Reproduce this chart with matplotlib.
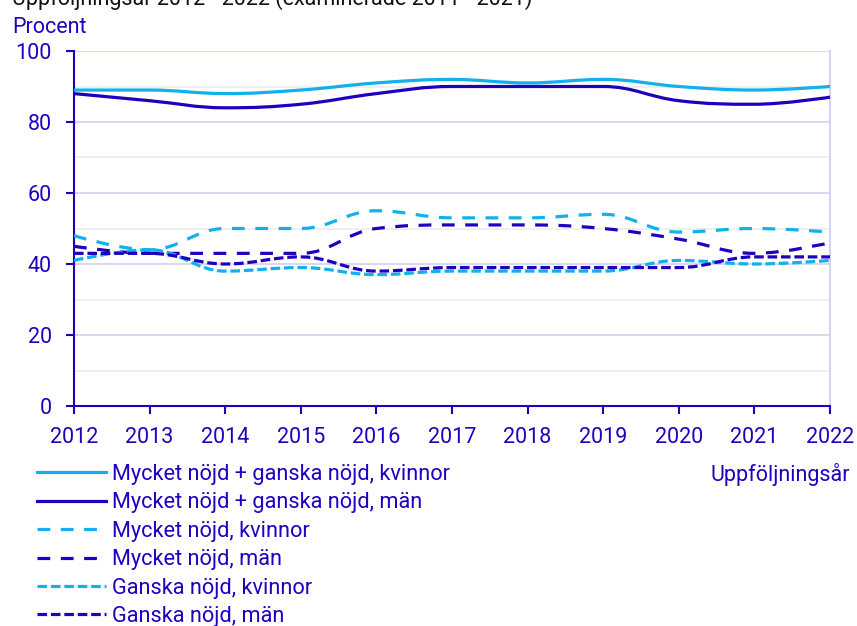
import matplotlib
matplotlib.use("Agg")
import matplotlib.pyplot as plt
from matplotlib.path import Path
from matplotlib.patches import PathPatch
from matplotlib.lines import Line2D
from matplotlib.ticker import MultipleLocator

plt.rcParams['font.family'] = ['Roboto', 'DejaVu Sans']

years = [2012, 2013, 2014, 2015, 2016, 2017, 2018, 2019, 2020, 2021, 2022]
total_kvinnor = [89, 89, 88, 89, 91, 92, 91, 92, 90, 89, 90]
total_man = [88, 86, 84, 85, 88, 90, 90, 90, 86, 85, 87]
mycket_kvinnor = [48, 44, 50, 50, 55, 53, 53, 54, 49, 50, 49]
mycket_man = [45, 43, 43, 43, 50, 51, 51, 50, 47, 43, 46]
ganska_kvinnor = [41, 44, 38, 39, 37, 38, 38, 38, 41, 40, 41]
ganska_man = [43, 43, 40, 42, 38, 39, 39, 39, 39, 42, 42]

labels = ["Mycket nöjd + ganska nöjd, kvinnor",
          "Mycket nöjd + ganska nöjd, män",
          "Mycket nöjd, kvinnor",
          "Mycket nöjd, män",
          "Ganska nöjd, kvinnor",
          "Ganska nöjd, män"]

LIGHT = '#12b0ec'
DARK = '#1e00be'
TXT = '#2200c0'
GRID = '#d4d4f2'
MINOR = '#eeeeee'

series = [
    (total_kvinnor, LIGHT, '-'),
    (total_man, DARK, '-'),
    (mycket_kvinnor, LIGHT, (0, (4, 3.3))),
    (mycket_man, DARK, (0, (4, 3.3))),
    (ganska_kvinnor, LIGHT, (0, (3, 1.2))),
    (ganska_man, DARK, (0, (3, 1.2))),
]


def spline_path(x, y, smoothing=1.5):
    n = len(x)
    denom = smoothing + 1
    L = []
    R = []
    for i in range(n):
        if 0 < i < n - 1:
            lx = (smoothing * x[i] + x[i - 1]) / denom
            ly = (smoothing * y[i] + y[i - 1]) / denom
            rx = (smoothing * x[i] + x[i + 1]) / denom
            ry = (smoothing * y[i] + y[i + 1]) / denom
            if rx != lx:
                corr = ((ry - ly) * (rx - x[i])) / (rx - lx) + y[i] - ry
                ly += corr
                ry += corr
            if ly > max(y[i - 1], y[i]):
                ly = max(y[i - 1], y[i]); ry = 2 * y[i] - ly
            elif ly < min(y[i - 1], y[i]):
                ly = min(y[i - 1], y[i]); ry = 2 * y[i] - ly
            if ry > max(y[i], y[i + 1]):
                ry = max(y[i], y[i + 1]); ly = 2 * y[i] - ry
            elif ry < min(y[i], y[i + 1]):
                ry = min(y[i], y[i + 1]); ly = 2 * y[i] - ry
        else:
            lx, ly, rx, ry = x[i], y[i], x[i], y[i]
        L.append((lx, ly))
        R.append((rx, ry))
    verts = [(x[0], y[0])]
    codes = [Path.MOVETO]
    for i in range(1, n):
        verts += [R[i - 1], L[i], (x[i], y[i])]
        codes += [Path.CURVE4] * 3
    return Path(verts, codes)


W, H = 857, 626
fig = plt.figure(figsize=(W / 100, H / 100), dpi=100)
ax = fig.add_axes([74 / W, 1 - 406 / H, (830 - 74) / W, (406 - 51) / H])

ax.set_xlim(2012, 2022)
ax.set_ylim(0, 100)

LW = 2.3
handles = []
for (vals, col, ls), lab in zip(series, labels):
    p = spline_path(years, vals)
    patch = PathPatch(p, fill=False, edgecolor=col, linewidth=LW, linestyle=ls,
                      capstyle='butt', joinstyle='round', zorder=3)
    ax.add_patch(patch)
    handles.append(Line2D([], [], color=col, linewidth=LW, linestyle=ls,
                          dash_capstyle='butt', label=lab))

ax.set_xticks(years)
ax.set_yticks([0, 20, 40, 60, 80, 100])
ax.yaxis.set_minor_locator(MultipleLocator(10))
ax.grid(axis='y', which='major', color=GRID, linewidth=1.3, zorder=0)
ax.grid(axis='y', which='minor', color=MINOR, linewidth=1.3, zorder=0)
ax.set_axisbelow(True)
ax.tick_params(axis='y', which='minor', length=0)
ax.tick_params(axis='both', which='major', colors=DARK, labelcolor=TXT,
               labelsize=15.5, length=6, width=1.5)
ax.tick_params(axis='y', pad=10)
ax.tick_params(axis='x', pad=9)

for s in ['left', 'bottom']:
    ax.spines[s].set_color(DARK)
    ax.spines[s].set_linewidth(1.5)
ax.spines['right'].set_color(GRID)
ax.spines['right'].set_linewidth(1.5)
ax.spines['top'].set_visible(False)

fig.text(12 / W, 1 - 5 / H, "Uppföljningsår 2012 - 2022 (examinerade 2011 - 2021)",
         color='#111111', fontsize=15.5, va='baseline', ha='left')
fig.text(12 / W, 1 - 33 / H, "Procent", color=TXT, fontsize=15.5,
         va='baseline', ha='left')
fig.text(850 / W, 1 - 475 / H, "Uppföljningsår", color=TXT, fontsize=15.5,
         va='center', ha='right')

leg = fig.legend(handles=handles, loc='upper left',
                 bbox_to_anchor=(37 / W, 1 - 464 / H), frameon=False,
                 fontsize=15.7, labelcolor=TXT, handlelength=3.15,
                 handletextpad=0.28, labelspacing=0.34, borderpad=0,
                 borderaxespad=0)

fig.savefig("out.png", dpi=100)
